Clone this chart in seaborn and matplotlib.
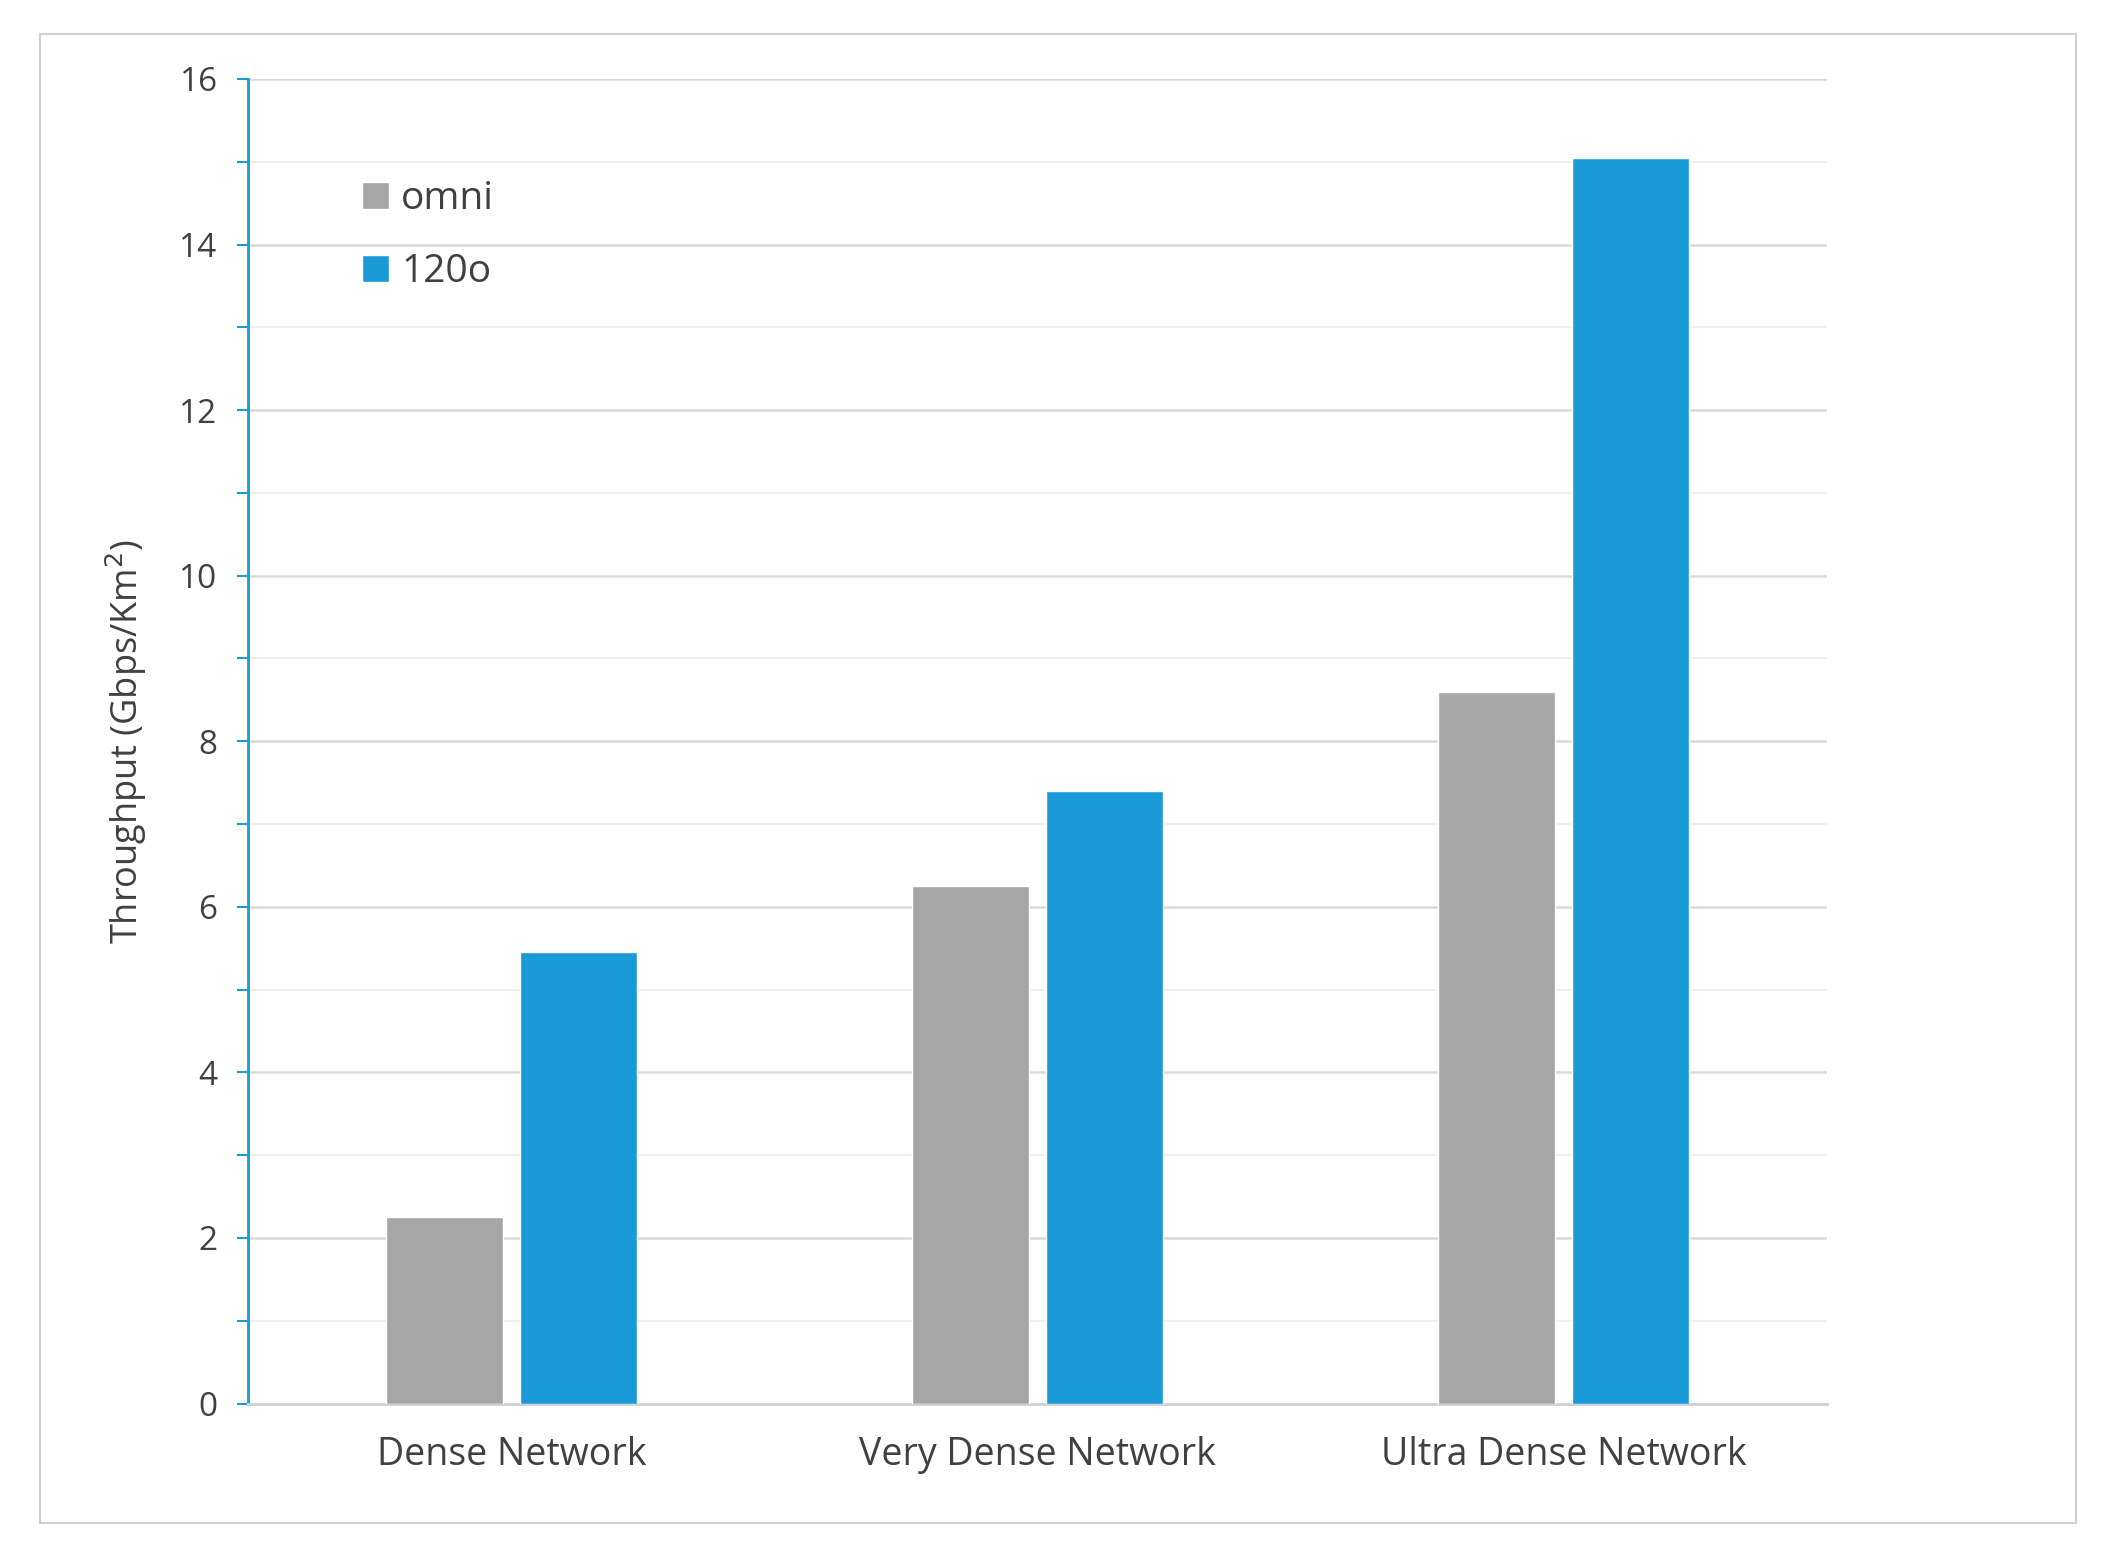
import matplotlib
matplotlib.use("Agg")
import matplotlib.pyplot as plt
import seaborn as sns
import pandas as pd
from matplotlib.patches import Rectangle

categories = ["Dense Network", "Very Dense Network", "Ultra Dense Network"]
series = ["omni", "120o"]
omni = [2.25, 6.25, 8.6]
deg120 = [5.45, 7.4, 15.05]
colors = {"omni": "#a6a6a6", "120o": "#1a9ad6"}

df = pd.DataFrame({
    "cat": categories * 2,
    "series": ["omni"] * 3 + ["120o"] * 3,
    "val": omni + deg120,
})

sns.set_style("white")
plt.rcParams['font.family'] = ['Open Sans', 'DejaVu Sans']
fig = plt.figure(figsize=(21.12, 15.67), dpi=100)
fig.patches.append(Rectangle((0.019, 0.028), 0.964, 0.95, transform=fig.transFigure,
                             fill=False, edgecolor="#d0d0d0", lw=1.5))
ax = fig.add_axes([0.1175, 0.1043, 0.7475, 0.8453])
sns.barplot(data=df, x="cat", y="val", hue="series", palette=colors,
            width=0.51, gap=0.13, saturation=1, ax=ax, zorder=3)
ax.set_ylim(0, 16)
ax.set_xlim(-0.5, 2.5)
ax.set_yticks(range(0, 17, 2))
ax.set_yticks(range(1, 17, 2), minor=True)
ax.yaxis.grid(True, which="major", color="#d9d9d9", lw=1.8, zorder=0)
ax.yaxis.grid(True, which="minor", color="#efefef", lw=1.5, zorder=0)
ax.tick_params(axis="y", which="both", left=True, length=8, width=1.5, color="#1a9ad6",
               labelsize=24, labelcolor="#404040", pad=14)
ax.tick_params(axis="x", labelsize=27, labelcolor="#404040", pad=20, bottom=False)
for s in ["top", "right"]:
    ax.spines[s].set_visible(False)
ax.spines["left"].set_color("#1a9ad6")
ax.spines["left"].set_linewidth(2)
ax.spines["bottom"].set_color("#d0d0d0")
ax.spines["bottom"].set_linewidth(2)
ax.set_xlabel("")
ax.set_ylabel("Throughput (Gbps/Km$^2$)", fontsize=26, color="#404040", labelpad=22)
leg = ax.legend(loc="upper left", bbox_to_anchor=(0.05, 0.95), frameon=False, fontsize=28,
                handlelength=0.7, handleheight=0.7, handletextpad=0.3, labelspacing=0.9)
for t in leg.get_texts():
    t.set_color("#404040")
fig.savefig("out.png", dpi=100)
